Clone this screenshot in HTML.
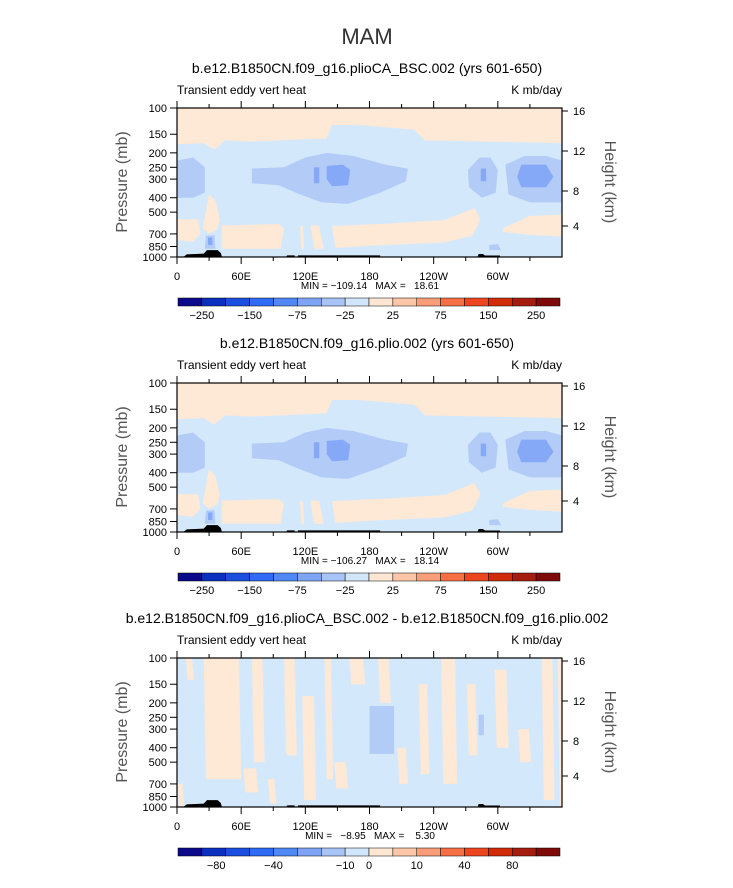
<!DOCTYPE html>
<html><head><meta charset="utf-8">
<style>
body{margin:0;background:#fff;width:733px;height:888px;overflow:hidden}
svg{display:block}
text{font-family:"Liberation Sans",sans-serif;fill:#000}
</style></head>
<body>
<svg id="chart" width="733" height="888" viewBox="0 0 733 888" xmlns="http://www.w3.org/2000/svg">
<text x="367" y="44" font-size="22" text-anchor="middle" style="fill:#333">MAM</text>
</svg>
<script>
const svgNS="http://www.w3.org/2000/svg";
const svg=document.getElementById('chart');
// data arrays
const lonTicks=[0,60,120,180,240,300];
const lonLabels=['0','60E','120E','180','120W','60W'];
const presTicks=[100,150,200,250,300,400,500,700,850,1000];
const heightTicks=[16,12,8,4];
const heightTickY=[111,151,191,226];
const cbColors=['#0a0a8a','#0b2fbf','#1a4fe0','#2f6bf5','#5088f5','#7ea5f5','#a8c4f7','#d2e6fa','#fde7d3','#fcc7a8','#f99e78','#f57044','#eb4620','#d12c0a','#a51d0e','#7e0a0a'];
const cbLabelsA=['−250','−150','−75','−25','25','75','150','250'];
const cbBoundA=[1,3,5,7,9,11,13,15];
const cbLabelsC=['−80','−40','−10','0','10','40','80'];
const cbBoundC=[1.6,4,7,8,10,12,14];
const titles=['b.e12.B1850CN.f09_g16.plioCA_BSC.002 (yrs 601-650)','b.e12.B1850CN.f09_g16.plio.002 (yrs 601-650)','b.e12.B1850CN.f09_g16.plioCA_BSC.002 - b.e12.B1850CN.f09_g16.plio.002'];
const minmax=['MIN = −109.14   MAX =   18.61','MIN = −106.27   MAX =   18.14','MIN =   −8.95   MAX =    5.30'];
const PEACH='#fee8d6',LB='#d4e8fb',MB='#b3cbf7',DB='#85a8f7';
const peachTop=[[0,100],[360,100],[360,172],[290,168],[232,165],[222,140],[170,130],[145,130],[140,160],[70,168],[45,165],[35,190],[25,172],[0,175]];
const peachLow=[
 [[0,555],[20,560],[22,700],[15,790],[0,770]],
 [[24,640],[30,380],[36,420],[40,560],[38,650],[30,700]],
 [[42,615],[95,600],[100,640],[97,880],[42,880]],
 [[145,620],[200,595],[250,565],[278,470],[284,560],[276,720],[250,800],[180,840],[148,870]],
 [[305,640],[330,530],[360,520],[360,730],[330,710],[305,680]],
 [[115,620],[118,620],[119,880],[116,880]],
 [[125,615],[133,615],[137,880],[128,880]]
];
const midBlue=[
 [[0,225],[15,215],[26,250],[26,370],[15,400],[0,400]],
 [[70,255],[100,250],[120,215],[140,200],[165,210],[195,240],[216,255],[214,310],[190,370],[160,440],[135,430],[115,380],[95,330],[70,320]],
 [[272,260],[283,215],[293,215],[300,260],[298,370],[285,400],[273,340]],
 [[307,240],[325,210],[345,210],[360,225],[360,430],[330,430],[310,380]],
 [[27,720],[35,715],[36,880],[26,880]],
 [[292,830],[300,820],[303,900],[292,900]]
];
const darkBlue=[
 [[140,245],[155,240],[162,260],[160,330],[145,335],[140,300]],
 [[128,250],[133,250],[133,320],[128,320]],
 [[284,255],[289,255],[289,310],[284,310]],
 [[322,240],[345,240],[352,290],[345,340],[322,340],[318,290]],
 [[29,740],[33,740],[33,830],[29,830]]
];
const topo=[[6,1000],[9,960],[25,950],[28,900],[38,900],[41,940],[42,1000],[102,1000],[103,975],[110,975],[110,1000],[113,1000],[113,975],[190,975],[190,1000],[281,1000],[282,955],[286,955],[288,978],[302,978],[302,1000]];
const diffBands=[[25,58,100,650],[70,80,100,500],[100,110,100,450],[117,128,180,900],[138,144,100,650],[188,198,100,200],[206,214,400,700],[226,234,150,600],[247,260,100,700],[271,279,150,450],[297,308,120,400],[319,329,300,500],[341,351,100,900],[356,360,100,1000],[62,74,550,800],[147,158,500,750],[0,5,700,1000],[161,174,100,150],[8,14,100,140],[85,91,650,950]];
const diffBlue=[[180,203,210,440],[282,287,240,330]];

function el(tag,attrs,parent,txt){const e=document.createElementNS(svgNS,tag);for(const k in attrs)e.setAttribute(k,attrs[k]);if(txt!==undefined)e.textContent=txt;(parent||svg).appendChild(e);return e;}

const X0=177,X1=562;
function drawPanel(i){
 const off=i*275, T=108+off, B=257+off;
 const xs=l=>X0+(l/360)*(X1-X0);
 const ys=p=>T+(Math.log10(p)-2)*(B-T);
 const g=el('g',{});  
 const t=el('text',{x:367,y:73+off,'font-size':14,'text-anchor':'middle'},g,titles[i]);
  
 const l1=el('text',{x:177,y:94+off,'font-size':12,'text-anchor':'start'},g,'Transient eddy vert heat');
  
 const l2=el('text',{x:562,y:94+off,'font-size':12,'text-anchor':'end'},g,'K mb/day');
  
 const clip='clip'+i;
 const cp=el('clipPath',{id:clip},g); el('rect',{x:X0,y:T,width:X1-X0,height:B-T},cp);
 const pg=el('g',{'clip-path':'url(#'+clip+')'},g);
  
 el('rect',{x:X0,y:T,width:X1-X0,height:B-T,fill:LB},pg);
 const poly=(pts,fill)=>{const e=el('polygon',{points:pts.map(q=>xs(q[0])+','+ys(q[1])).join(' '),fill:fill},pg);};
 if(i<2){
  poly(peachTop,PEACH);
  peachLow.forEach(s=>poly(s,PEACH));
  midBlue.forEach(s=>poly(s,MB));
  darkBlue.forEach(s=>poly(s,DB));
 } else {
  diffBands.forEach(b=>poly([[b[0],b[2]],[b[1],b[2]],[b[1]+2,b[3]],[b[0]+2,b[3]]],PEACH));
  diffBlue.forEach(b=>poly([[b[0],b[2]],[b[1],b[2]],[b[1],b[3]],[b[0],b[3]]],MB));
 }
 const tp=el('polygon',{points:topo.map(q=>xs(q[0])+','+ys(q[1])).join(' '),fill:'#000'},pg);
  
 const fr=el('rect',{x:X0,y:T,width:X1-X0,height:B-T,fill:'none',stroke:'#000','stroke-width':1.2},g);
  
 for(let l=0;l<=330;l+=30){
  const len=(l%60===0)?7:4;
  el('line',{x1:xs(l),x2:xs(l),y1:B,y2:B+len,stroke:'#000'},g);
  el('line',{x1:xs(l),x2:xs(l),y1:T,y2:T-len,stroke:'#000'},g);
 }
 lonTicks.forEach((l,k)=>{const e=el('text',{x:xs(l),y:B+23,'font-size':11,'text-anchor':'middle'},g,lonLabels[k]);});
 presTicks.forEach(p=>{
  el('line',{x1:X0-7,x2:X0,y1:ys(p),y2:ys(p),stroke:'#000'},g);
  const e=el('text',{x:X0-10,y:ys(p)+4,'font-size':11,'text-anchor':'end'},g,String(p));
   
 });
 heightTicks.forEach((h,k)=>{
  const y=heightTickY[k]+off;
  el('line',{x1:X1,x2:X1+6,y1:y,y2:y,stroke:'#000'},g);
  const e=el('text',{x:X1+11,y:y+4,'font-size':11},g,String(h));
   
 });
 const yt=el('text',{x:0,y:0,'font-size':16,'text-anchor':'middle',transform:'translate(127,'+(182+off)+') rotate(-90)'},g,'Pressure (mb)');
 yt.style.fill='#555';  
 const ht=el('text',{x:0,y:0,'font-size':16,'text-anchor':'middle',transform:'translate(605,'+(182+off)+') rotate(90)'},g,'Height (km)');
 ht.style.fill='#555';  
 const mm=el('text',{x:370,y:289+off,'font-size':10,'text-anchor':'middle'},g,minmax[i]);
 mm.style.whiteSpace='pre';
  
 const cb=el('g',{},g);  
 const cx0=178,cw=(560-178)/cbColors.length,cy=298+off;
 cbColors.forEach((c,k)=>{const r=el('rect',{x:cx0+k*cw,y:cy,width:cw,height:8,fill:c,stroke:'#000','stroke-width':0.5},cb);});
 const labs=i<2?cbLabelsA:cbLabelsC, bnd=i<2?cbBoundA:cbBoundC;
 labs.forEach((s,k)=>{const e=el('text',{x:cx0+bnd[k]*cw,y:cy+21,'font-size':11,'text-anchor':'middle'},cb,s);});
}
[0,1,2].forEach(drawPanel);
</script>
</body></html>
